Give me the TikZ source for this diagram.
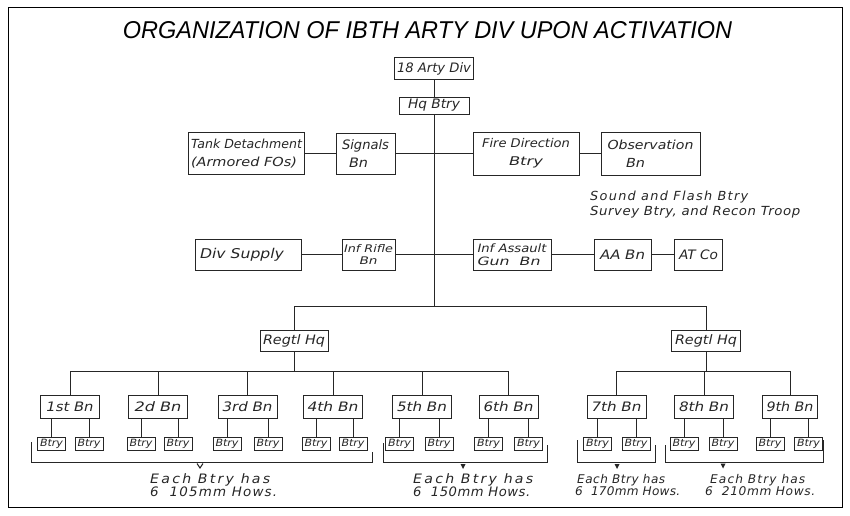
\documentclass[tikz,border=0pt]{standalone}
\usepackage{fontspec}
\usepackage{graphicx}
\setmainfont{Liberation Sans}
\setsansfont{DejaVu Sans}
\newfontfamily\titlefont{Liberation Sans}
\newcommand\hfont[2]{\sffamily\itshape\fontsize{#1}{#2}\selectfont}
\newcommand\fw[2]{\resizebox{#1}{\height}{#2}}
\newcommand\fwl[3]{\resizebox{#1}{\height}{\addfontfeature{LetterSpace=#2}#3}}
\begin{document}
\begin{tikzpicture}[x=1pt,y=-1pt,
  ink/.style={draw=black!85, line width=0.85pt},
  box/.style={ink, inner sep=0pt, text=black!85, align=center},
  note/.style={inner sep=0pt, anchor=west, text=black!85, font=\hfont{13}{14}},
  notesm/.style={note, font=\hfont{12}{13}},
  bn/.style={box, font=\hfont{13}{14}, minimum width=59pt, minimum height=23pt},
  bt/.style={box, font=\hfont{10}{11}, minimum width=28pt, minimum height=13pt}
]
\useasboundingbox (0,0) rectangle (850,515);
\draw[line width=1.3pt, black] (8.3,7.3) rectangle (842.7,507.5);

\node[inner sep=0pt] (title) at (427.5,30) {\resizebox{609pt}{17pt}{\titlefont\itshape ORGANIZATION OF IBTH ARTY DIV UPON ACTIVATION}};

% top
\node[box, font=\hfont{13}{14}, minimum width=79pt, minimum height=22pt] (div) at (434,68.5) {\fw{74pt}{18 Arty Div}};
\node[box, font=\hfont{13}{14}, minimum width=70pt, minimum height=17pt] (hq) at (434,105.5) {\fw{52pt}{Hq Btry}};

% row 1
\node[box, font=\hfont{12.5}{18}, align=left, minimum width=116pt, minimum height=42pt] (tank) at (246.5,153.5) {\fw{111pt}{Tank Detachment}\\\fw{106pt}{(Armored FOs)}};
\node[box, font=\hfont{13}{18}, align=left, minimum width=59pt, minimum height=41pt] (sig) at (365.5,153.5) {\fw{47pt}{Signals}\\\hspace*{7pt}\fw{19pt}{Bn}\hspace*{21pt}};
\node[box, font=\hfont{12}{18}, minimum width=106pt, minimum height=43pt] (fire) at (526,153.5) {\fw{88pt}{Fire Direction}\\\fw{34pt}{Btry}};
\node[box, font=\hfont{12.5}{18}, minimum width=99pt, minimum height=43pt] (obs) at (650.5,153.5) {\fw{86pt}{Observation}\\\fw{19pt}{Bn}\hspace*{30pt}};

\node[note, font=\hfont{12.5}{13}] (sf1) at (590,197) {\fwl{158pt}{10}{Sound and Flash Btry}};
\node[note, font=\hfont{12.5}{13}] (sf2) at (590,212.5) {\fwl{210pt}{4}{Survey Btry, and Recon Troop}};

% row 2
\node[box, font=\hfont{13.5}{14}, minimum width=106pt, minimum height=31pt] (sup) at (248,254.5) {\fw{84pt}{Div Supply}\hspace*{12pt}};
\node[box, font=\hfont{10.5}{12}, minimum width=53pt, minimum height=31pt] (rifle) at (368.5,254.5) {\fw{49pt}{Inf Rifle}\\\fw{18pt}{Bn}};
\node[box, font=\hfont{11.5}{13}, align=left, minimum width=78pt, minimum height=31pt] (asg) at (512,254.5) {\fw{69pt}{Inf Assault}\\\fw{63pt}{Gun \ Bn}};
\node[box, font=\hfont{13}{14}, minimum width=57pt, minimum height=31pt] (aa) at (622.5,254.5) {\fw{45pt}{AA Bn}};
\node[box, font=\hfont{13}{14}, minimum width=48pt, minimum height=31pt] (at) at (698.5,254.5) {\fw{39pt}{AT Co}};

% regiments
\coordinate (top) at (434,306);
\node[box, font=\hfont{13}{14}, minimum width=68pt, minimum height=21pt] (reg1) at (294,340.5) {\fw{62pt}{Regtl Hq}};
\node[box, font=\hfont{13}{14}, minimum width=69pt, minimum height=21pt] (reg2) at (706,340.5) {\fw{62pt}{Regtl Hq}};
\coordinate (g1) at (294,371);
\coordinate (g2) at (706,371);

% battalions
\node[bn] (bn1) at (70,407) {\fw{47pt}{1st Bn}};
\node[bn] (bn2) at (158,407) {\fw{47pt}{2d Bn}};
\node[bn] (bn3) at (247.5,407) {\fw{50pt}{3rd Bn}};
\node[bn] (bn4) at (333,407) {\fw{51pt}{4th Bn}};
\node[bn] (bn5) at (422,407) {\fw{50pt}{5th Bn}};
\node[bn] (bn6) at (508.5,407) {\fw{50pt}{6th Bn}};
\node[bn] (bn7) at (616.5,407) {\fw{50pt}{7th Bn}};
\node[bn] (bn8) at (704,407) {\fw{50pt}{8th Bn}};
\node[bn, minimum width=55pt] (bn9) at (790,407) {\fw{47pt}{9th Bn}};

% batteries
\foreach \n/\x in {b1a/51.5,b1b/89,b2a/141,b2b/178,b3a/227,b3b/268,b4a/316,b4b/353,b5a/399.5,b5b/439,b6a/488.5,b6b/528.5,b7a/597.5,b7b/636,b8a/684,b8b/723,b9a/770,b9b/808.5}
  \node[bt] (\n) at (\x,443.5) {\fw{23pt}{Btry}};

% connectors
\draw[ink] (div) -- (hq);
\draw[ink] (hq.south) -- (top);
\draw[ink] (tank) -- (sig);
\draw[ink] (sig) -- (fire);
\draw[ink] (fire) -- (obs);
\draw[ink] (sup) -- (rifle);
\draw[ink] (rifle) -- (asg);
\draw[ink] (asg) -- (aa);
\draw[ink] (aa) -- (at);
\draw[ink] (reg1.north) -- (reg1.north |- top) -- (reg2.north |- top) -- (reg2.north);
\draw[ink] (reg1.south) -- (g1);
\draw[ink] (reg2.south) -- (g2);
\draw[ink] (bn1.north) -- (bn1.north |- g1) -- (bn6.north |- g1) -- (bn6.north);
\foreach \b in {bn2,bn3,bn4,bn5} \draw[ink] (\b.north) -- (\b.north |- g1);
\draw[ink] (bn7.north) -- (bn7.north |- g2) -- (bn9.north |- g2) -- (bn9.north);
\draw[ink] (bn8.north) -- (bn8.north |- g2);
\foreach \i in {1,...,9} {
  \draw[ink] (b\i a.north |- bn\i.south) -- (b\i a.north);
  \draw[ink] (b\i b.north |- bn\i.south) -- (b\i b.north);
}

% brackets
\draw[ink] (31,442) -- (31,462) -- (372,462) -- (372,452);
\draw[ink] (383,443) -- (383,462) -- (547,462) -- (547,445);
\draw[ink] (577,440) -- (577,462) -- (655,462) -- (655,445);
\draw[ink] (665,445) -- (665,462) -- (823,462) -- (823,440);

% pointers
\draw[ink, line width=1pt] (197,463.5) -- (200,468) -- (203,463.5);
\fill[black!85] (460.5,464) -- (465.5,464) -- (463,469) -- cycle;
\fill[black!85] (614.5,464) -- (619.5,464) -- (617,469) -- cycle;
\fill[black!85] (720.5,463.5) -- (725.5,463.5) -- (723,468.5) -- cycle;

% notes
\node[note] (n1a) at (150,480) {\fwl{120pt}{16}{Each Btry has}};
\node[note] (n1b) at (150,491.5) {\fwl{127pt}{9}{6 \ 105mm Hows.}};
\node[note] (n2a) at (413,480) {\fwl{120pt}{16}{Each Btry has}};
\node[note] (n2b) at (413,491.5) {\fwl{117pt}{4}{6 \ 150mm Hows.}};
\node[notesm] (n3a) at (577,480) {\fwl{88pt}{4}{Each Btry has}};
\node[notesm] (n3b) at (575,491.5) {\fwl{105pt}{2}{6 \ 170mm Hows.}};
\node[notesm] (n4a) at (710,480) {\fwl{95pt}{9}{Each Btry has}};
\node[notesm] (n4b) at (705,491.5) {\fwl{110pt}{5}{6 \ 210mm Hows.}};
\end{tikzpicture}
\end{document}
